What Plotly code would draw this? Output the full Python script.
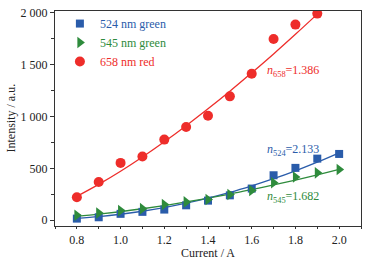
import plotly.graph_objects as go

current = [0.8, 0.9, 1.0, 1.1, 1.2, 1.3, 1.4, 1.5, 1.6, 1.7, 1.8, 1.9, 2.0]
i524 = [16, 29, 62, 81, 103, 144, 189, 240, 305, 433, 504, 593, 638]
i545 = [48, 71, 93, 112, 151, 177, 199, 247, 286, 360, 417, 456, 488]
current_red = [0.8, 0.9, 1.0, 1.1, 1.2, 1.3, 1.4, 1.5, 1.6, 1.7, 1.8, 1.9]
i658 = [221, 369, 552, 614, 776, 898, 1006, 1192, 1410, 1744, 1882, 1988]

fit524 = [18, 35, 58, 87, 122, 164, 213, 268, 331, 400, 476, 559, 649]
fit545 = [38, 59, 83, 111, 142, 176, 213, 252, 295, 340, 387, 437, 489]
fit658 = [230, 345, 471, 608, 755, 910, 1072, 1241, 1418, 1600, 1789, 1983]

names = ["524 nm green", "545 nm green", "658 nm red"]
colors = ["#2a5caa", "#2e8b3c", "#ee2d2a"]
fit_labels = [("524", "2.133"), ("545", "1.682"), ("658", "1.386")]

y_ticks = [0, 500, 1000, 1500, 2000]
y_ticktext = ["0", "500", "1 000", "1 500", "2 000"]
x_ticks = [0.8, 1.0, 1.2, 1.4, 1.6, 1.8, 2.0]
x_ticktext = ["0.8", "1.0", "1.2", "1.4", "1.6", "1.8", "2.0"]

font = "Liberation Serif, Times New Roman, serif"
fig = go.Figure()

fits = [(current, fit524), (current, fit545), (current_red, fit658)]
for (fx, fy), c in zip(fits, colors):
    fig.add_trace(go.Scatter(x=fx, y=fy, mode="lines", line=dict(color=c, width=1.3, shape="spline"),
                             showlegend=False, hoverinfo="skip"))

datas = [(current, i524, "square", 8), (current, i545, "triangle-right", 10), (current_red, i658, "circle", 10)]
for (dx, dy, sym, sz), c, n in zip(datas, colors, names):
    fig.add_trace(go.Scatter(x=dx, y=dy, mode="markers",
                             marker=dict(symbol=sym, size=sz, color=c, line=dict(width=0)),
                             name=f"<span style='color:{c}'>{n}</span>"))

ann_pos = [(1.66, 673), (1.66, 221), (1.66, 1440)]
for (sub, val), (ax, ay), c in zip(fit_labels, ann_pos, colors):
    fig.add_annotation(x=ax, y=ay, xref="x", yref="y", xanchor="left", yanchor="middle",
                       text=f"<i>n</i><sub>{sub}</sub>={val}", showarrow=False,
                       font=dict(family=font, size=12, color=c))

fig.add_annotation(x=0.5, y=-0.124, xref="paper", yref="paper", xanchor="center", yanchor="middle",
                   text="Current / A", showarrow=False, font=dict(family=font, size=12, color="#222"))
fig.add_annotation(x=-0.147, y=0.5, xref="paper", yref="paper", xanchor="center", yanchor="middle",
                   text="Intensity / a.u.", textangle=-90, showarrow=False,
                   font=dict(family=font, size=12, color="#222"))

fig.update_layout(
    width=369, height=260,
    margin=dict(l=55, r=8, t=11, b=34, autoexpand=False),
    paper_bgcolor="white", plot_bgcolor="white",
    font=dict(family=font, size=12, color="#222"),
    legend=dict(x=0.016, y=1.009, xanchor="left", yanchor="top", bgcolor="rgba(0,0,0,0)",
                font=dict(family=font, size=12), tracegroupgap=0, itemwidth=30),
    xaxis=dict(range=[0.7, 2.1], tickvals=x_ticks, ticktext=x_ticktext, ticks="outside", ticklen=2,
               tickcolor="#333", showline=True, linecolor="#333", linewidth=1.2, mirror=True,
               showgrid=False, zeroline=False, automargin=False,
               minor=dict(dtick=0.1, ticks="outside", ticklen=2, tickcolor="#333")),
    yaxis=dict(range=[-55, 2013], tickvals=y_ticks, ticktext=y_ticktext, ticks="outside", ticklen=4,
               tickcolor="#333", showline=True, linecolor="#333", linewidth=1.2, mirror=True,
               showgrid=False, zeroline=False, automargin=False, ticklabeloverflow="allow",
               minor=dict(tickvals=[250, 750, 1250, 1750], ticks="outside", ticklen=3, tickcolor="#333")),
)

fig.write_html("out.html", config={"displayModeBar": False},
               post_script="document.body.style.margin='0';document.body.style.overflow='hidden';")
